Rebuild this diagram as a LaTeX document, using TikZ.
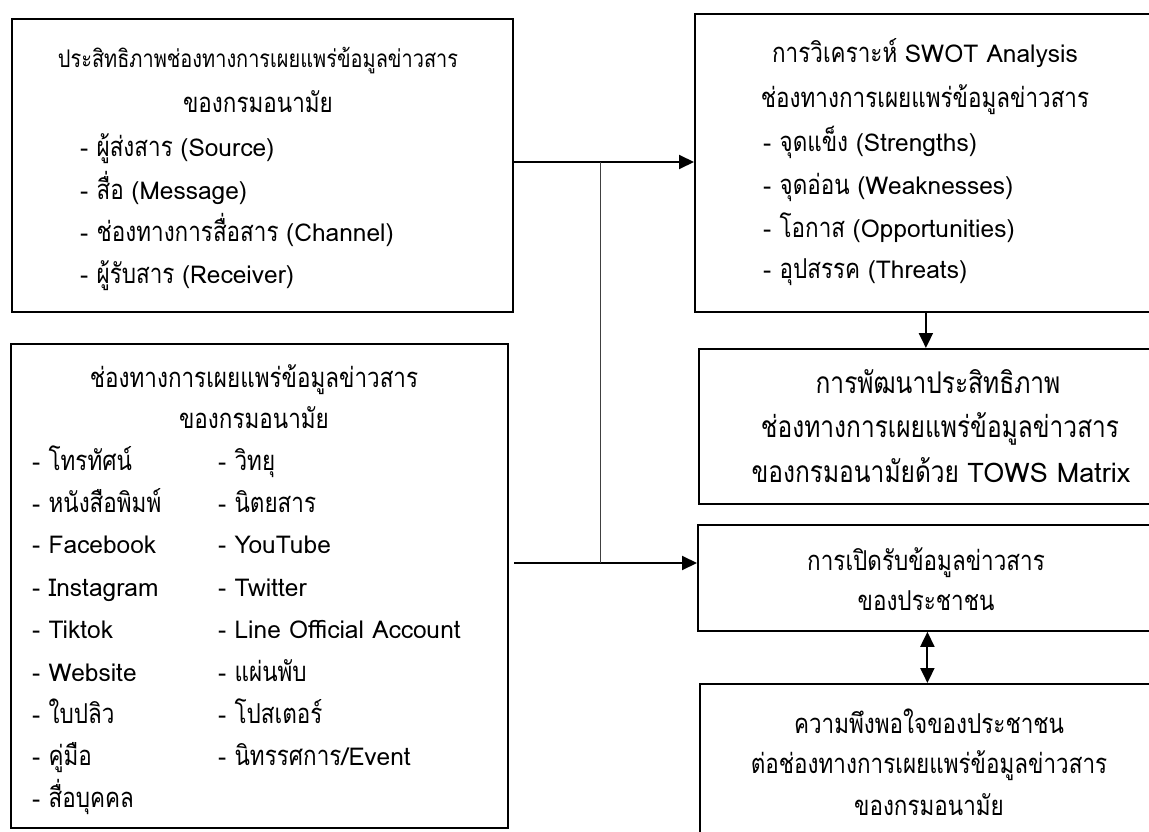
\documentclass[tikz,border=0pt]{standalone}
\usepackage{fontspec}
\newfontfamily\thaifont[Script=Thai, FakeStretch=0.82]{Loma}
\newfontfamily\latfont{Loma}
\usetikzlibrary{arrows.meta}
\newcommand\lat[1]{{\latfont\fontsize{24.5}{28}\selectfont #1}}
\newcommand\latb[1]{{\latfont\fontsize{27}{30}\selectfont #1}}
\tikzset{
  box/.style={draw=black, line width=1.8pt, rectangle, inner sep=0pt, anchor=north west},
  txt/.style={font=\thaifont\fontsize{27.4}{31}\selectfont, inner sep=0pt, text=black},
  big/.style={font=\thaifont\fontsize{29.9}{34}\selectfont},
  tc/.style={txt, anchor=base},
  tl/.style={txt, anchor=base west},
  conn/.style={line width=2pt, -{Triangle[length=15pt,width=14pt]}},
  dbl/.style={line width=2pt, {Triangle[length=15pt,width=14pt]}-{Triangle[length=15pt,width=14pt]}},
  thinline/.style={line width=1pt, draw=black!75}
}
\begin{document}
\begin{tikzpicture}[x=1pt,y=-1pt]
\useasboundingbox (0,0) rectangle (1149,832);
\clip (0,0) rectangle (1149,832);
% boxes
\node[box, minimum width=501pt, minimum height=293pt] (b1) at (11,18) {};
\node[box, minimum width=497pt, minimum height=484pt] (b2) at (10,343) {};
\node[box, minimum width=462pt, minimum height=298pt] (b3) at (694,13) {};
\node[box, minimum width=458pt, minimum height=155pt] (b4) at (698,348) {};
\node[box, minimum width=459pt, minimum height=106pt] (b5) at (697,524) {};
\node[box, minimum width=457pt, minimum height=180pt] (b6) at (699,683) {};
% box 1 text
\node[tc, font=\thaifont\fontsize{24.3}{28}\selectfont] (t11) at (258,68) {ประสิทธิภาพช่องทางการเผยแพร่ข้อมูลข่าวสาร};
\node[tc] (t12) at (258,113) {ของกรมอนามัย};
\node[tl] (t13) at (80,157) {\lat{- }ผู้ส่งสาร \lat{(Source)}};
\node[tl] (t14) at (80,199) {\lat{- }สื่อ \lat{(Message)}};
\node[tl] (t15) at (80,241) {\lat{- }ช่องทางการสื่อสาร \lat{(Channel)}};
\node[tl] (t16) at (80,283) {\lat{- }ผู้รับสาร \lat{(Receiver)}};
% box 2 text
\node[tc] (t21) at (254,387) {ช่องทางการเผยแพร่ข้อมูลข่าวสาร};
\node[tc] (t22) at (254,428) {ของกรมอนามัย};
\node[tl] (a1) at (32,470) {\lat{- }โทรทัศน์};
\node[tl] (a2) at (32,512) {\lat{- }หนังสือพิมพ์};
\node[tl] (a3) at (32,553) {\lat{- Facebook}};
\node[tl] (a4) at (32,596) {\lat{- Instagram}};
\node[tl] (a5) at (32,638) {\lat{- Tiktok}};
\node[tl] (a6) at (32,681) {\lat{- Website}};
\node[tl] (a7) at (32,723) {\lat{- }ใบปลิว};
\node[tl] (a8) at (32,765) {\lat{- }คู่มือ};
\node[tl] (a9) at (32,807) {\lat{- }สื่อบุคคล};
\node[tl] (c1) at (218,470) {\lat{- }วิทยุ};
\node[tl] (c2) at (218,512) {\lat{- }นิตยสาร};
\node[tl] (c3) at (218,553) {\lat{- YouTube}};
\node[tl] (c4) at (218,596) {\lat{- Twitter}};
\node[tl] (c5) at (218,638) {\lat{- Line Official Account}};
\node[tl] (c6) at (218,681) {\lat{- }แผ่นพับ};
\node[tl] (c7) at (218,723) {\lat{- }โปสเตอร์};
\node[tl] (c8) at (218,765) {\lat{- }นิทรรศการ\lat{/Event}};
% box 3 text
\node[tc] (t31) at (925,63) {การวิเคราะห์ \lat{SWOT Analysis}};
\node[tc] (t32) at (925,108) {ช่องทางการเผยแพร่ข้อมูลข่าวสาร};
\node[tl] (t33) at (763,152) {\lat{- }จุดแข็ง \lat{(Strengths)}};
\node[tl] (t34) at (763,194) {\lat{- }จุดอ่อน \lat{(Weaknesses)}};
\node[tl] (t35) at (763,237) {\lat{- }โอกาส \lat{(Opportunities)}};
\node[tl] (t36) at (763,278) {\lat{- }อุปสรรค \lat{(Threats)}};
% box 4 text
\node[tc, big] (t41) at (938,393) {การพัฒนาประสิทธิภาพ};
\node[tc, big] (t42) at (940,437) {ช่องทางการเผยแพร่ข้อมูลข่าวสาร};
\node[tc, big] (t43) at (941,482) {ของกรมอนามัยด้วย \latb{TOWS Matrix}};
% box 5 text
\node[tc] (t51) at (926,570) {การเปิดรับข้อมูลข่าวสาร};
\node[tc] (t52) at (926,610) {ของประชาชน};
% box 6 text
\node[tc] (t61) at (929,733) {ความพึงพอใจของประชาชน};
\node[tc] (t62) at (929,773) {ต่อช่องทางการเผยแพร่ข้อมูลข่าวสาร};
\node[tc] (t63) at (929,815) {ของกรมอนามัย};
% connectors
\coordinate (j1) at (600,162);
\coordinate (j2) at (600,563);
\coordinate (s2) at (514,563);
\draw[conn] (b1.east |- j1) -- (b3.west |- j1);
\draw[conn] (s2) -- (b5.west |- s2);
\draw[thinline] (j1) -- (j2);
\draw[conn] (b3.south) -- (b3.south |- b4.north);
\draw[dbl] (b5.south) -- (b5.south |- b6.north);
\end{tikzpicture}
\end{document}
